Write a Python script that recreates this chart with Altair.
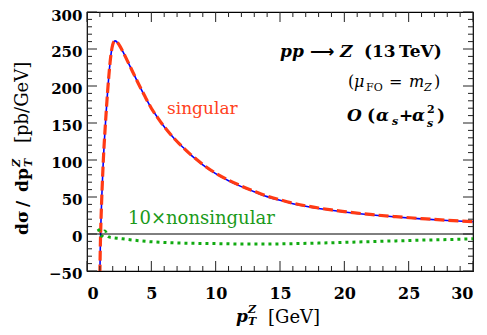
import altair as alt
import pandas as pd

# ---- data ----
pt = [1.00, 1.03, 1.06, 1.10, 1.15, 1.20, 1.27, 1.33, 1.40, 1.50, 1.60, 1.70, 1.80, 1.90,
      2.00, 2.10, 2.20, 2.40, 2.60, 2.80, 3.00, 3.25, 3.50, 3.75, 4.00, 4.50, 5.00, 5.50,
      6.00, 6.50, 7.00, 7.50, 8.00, 8.50, 9.00, 10.0, 11.0, 12.0, 13.0, 14.0, 15.0, 16.0,
      17.0, 18.0, 19.0, 20.0, 22.0, 24.0, 26.0, 28.0, 30.0]
full = [-55, -22, 2, 25, 50, 72, 100, 120, 140, 167, 192, 214, 233, 247,
        256, 260, 261, 258, 252.5, 246, 239, 230, 221, 212, 203, 186, 170, 157,
        145, 134.5, 125, 116.5, 108, 100.5, 93.5, 81.5, 72, 64, 57, 50.5, 45.5, 41,
        37.5, 34.5, 32, 29.8, 26, 23, 20.5, 18.3, 16.5]
singular = [-55, -22, 2, 25, 50, 72, 100, 120, 140, 167, 192, 214, 233, 247,
            256, 260, 261, 258, 252.5, 246, 239, 230, 221, 212, 203, 186, 170, 157,
            145, 134.5, 125, 116.5, 108.3, 101, 94, 82.2, 72.8, 64.8, 57.8, 51.3, 46.2, 41.7,
            38.1, 35.1, 32.5, 30.3, 26.4, 23.4, 20.8, 18.6, 16.8]
pt_ns = [0.85, 0.95, 1.05, 1.15, 1.25, 1.35, 1.45, 1.55, 1.70, 2.0, 2.5, 3.0, 4.0, 5.0,
         6.0, 8.0, 10.0, 12.0, 14.0, 16.0, 18.0, 20.0, 22.0, 24.0, 26.0, 28.0, 30.0]
nonsing10 = [7, 4, -1, -3, 0, 4, 3, -2, -4, -5, -6, -7, -9, -10.5,
             -11.5, -12.5, -13, -13.5, -13.5, -13, -12.3, -11.3, -10.3, -9.3, -8.3, -7.5, -6.5]

x_major = [0, 5, 10, 15, 20, 25, 30]
x_minor = [i for i in range(1, 30) if i % 5]
y_major = [-50, 0, 50, 100, 150, 200, 250, 300]
y_minor = [v for v in range(-40, 300, 10) if v % 50]

W, H = 386, 259
FONT = "DejaVu Serif"

xs = alt.Scale(domain=[0, 30], nice=False, zero=False)
ys = alt.Scale(domain=[-50, 300], nice=False, zero=False)
xaxis = alt.Axis(values=x_major, ticks=False, tickSize=0, domain=False, grid=False, title=None,
                 labelFont=FONT, labelFontSize=16, labelFontWeight="bold", labelColor="black",
                 labelPadding=14)
yaxis = alt.Axis(values=y_major, ticks=False, tickSize=0, domain=False, grid=False, title=None,
                 labelFont=FONT, labelFontSize=15, labelFontWeight="bold", labelColor="black",
                 labelPadding=5, labelOffset={"expr": "datum.value == 300 ? 3.5 : 2"})


def X(f):
    return alt.X(f, scale=xs, axis=xaxis)


def Y(f):
    return alt.Y(f, scale=ys, axis=yaxis)


full_line = alt.Chart(pd.DataFrame({"x": pt, "y": full})).mark_line(
    color="#0000ff", strokeWidth=1.6, clip=True, interpolate="monotone").encode(x=X("x:Q"), y=Y("y:Q"))
sing_line = alt.Chart(pd.DataFrame({"x": pt, "y": singular})).mark_line(
    color="#ff3a14", strokeWidth=3.2, strokeDash=[10, 4], clip=True, interpolate="monotone").encode(
    x=X("x:Q"), y=Y("y:Q"))
ns_line = alt.Chart(pd.DataFrame({"x": pt_ns, "y": nonsing10})).mark_line(
    color="#11aa11", strokeWidth=3, strokeDash=[3, 4], clip=True, interpolate="monotone").encode(
    x=X("x:Q"), y=Y("y:Q"))
zero = alt.Chart(pd.DataFrame({"y": [0]})).mark_rule(color="black", strokeWidth=1).encode(
    y=Y("y:Q"), x=alt.value(0), x2=alt.value(W))


def xticks(vals, length):
    d = pd.DataFrame({"x": vals})
    b = alt.Chart(d).mark_rule(color="#222", strokeWidth=1).encode(
        x=X("x:Q"), y=alt.value(H), y2=alt.value(H - length))
    t = alt.Chart(d).mark_rule(color="#222", strokeWidth=1).encode(
        x=X("x:Q"), y=alt.value(0), y2=alt.value(length))
    return [b, t]


def yticks(vals, length):
    d = pd.DataFrame({"y": vals})
    l = alt.Chart(d).mark_rule(color="#222", strokeWidth=1).encode(
        y=Y("y:Q"), x=alt.value(0), x2=alt.value(length))
    r = alt.Chart(d).mark_rule(color="#222", strokeWidth=1).encode(
        y=Y("y:Q"), x=alt.value(W), x2=alt.value(W - length))
    return [l, r]


def label(text, x, y, size=16, weight="normal", style="normal", color="black", angle=0, font=FONT):
    return alt.Chart(pd.DataFrame({"t": [text]})).mark_text(
        font=font, fontSize=size, fontWeight=weight, fontStyle=style, color=color,
        align="left", baseline="alphabetic", angle=angle).encode(
        x=alt.value(x), y=alt.value(y), text=alt.Text("t:N"))


labels = [
    # series labels
    label("singular", 80, 102, size=17, color="#ff4020"),
    label("10×nonsingular", 41, 212, size=18, color="#1a9a1a"),
    # process
    label("pp", 193, 45, size=17, weight="bold", style="italic"),
    label("⟶", 223, 45, size=17, weight="bold", font="DejaVu Sans"),
    label("Z", 253, 45, size=17, weight="bold", style="italic"),
    label("(13\u2009TeV)", 277, 45, size=17, weight="bold"),
    # scale
    label("(", 261, 75, size=16),
    label("μ", 267, 75, size=16, style="italic"),
    label("FO", 279, 79, size=11),
    label("=", 302, 75, size=16),
    label("m", 322, 75, size=16, style="italic"),
    label("Z", 337, 79, size=11, style="italic"),
    label(")", 347, 75, size=16),
    # order
    label("O", 260, 109, size=17, weight="bold", style="italic"),
    label("(", 280, 109, size=17, weight="bold"),
    label("α", 289, 109, size=17, weight="bold", style="italic"),
    label("s", 305, 113, size=11, weight="bold", style="italic"),
    label("+", 312, 109, size=17, weight="bold"),
    label("α", 325, 109, size=17, weight="bold", style="italic"),
    label("2", 340, 101, size=11, weight="bold"),
    label("s", 340, 115, size=11, weight="bold", style="italic"),
    label(")", 350, 109, size=17, weight="bold"),
    # x title
    label("p", 149, 310, size=17, weight="bold", style="italic"),
    label("Z", 161, 301, size=11, weight="bold", style="italic"),
    label("T", 161, 313, size=11, weight="bold", style="italic"),
    label("[GeV]", 181, 311, size=18),
    # y title (rotated)
    label("dσ", -59, 223, size=17, weight="bold", angle=270),
    label("/", -59, 195, size=17, weight="bold", angle=270),
    label("dp", -59, 180, size=17, weight="bold", angle=270),
    label("Z", -67, 155, size=11, weight="bold", style="italic", angle=270),
    label("T", -55, 155, size=11, weight="bold", style="italic", angle=270),
    label("[pb/GeV]", -59, 131, size=18, angle=270),
]

layers = ([full_line, sing_line, ns_line, zero]
          + xticks(x_major, 10) + xticks(x_minor, 5)
          + yticks(y_major, 10) + yticks(y_minor, 5)
          + labels)

chart = alt.layer(*layers).properties(
    width=W, height=H,
    autosize=alt.AutoSizeParams(type="none"),
    padding={"left": 79, "top": 4, "right": 6, "bottom": 56},
).configure_view(stroke="black", strokeWidth=1.2)

chart.save("out.html", embed_options={"renderer": "svg", "actions": False})
